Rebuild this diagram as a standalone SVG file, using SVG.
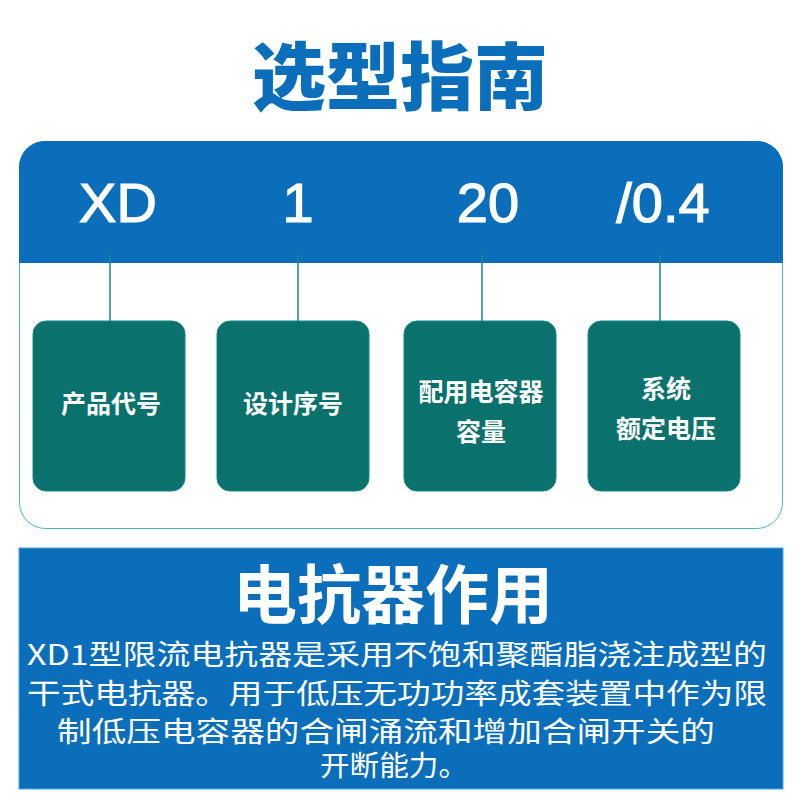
<svg xmlns="http://www.w3.org/2000/svg" width="800" height="800" viewBox="0 0 800 800">
<style>
.box{fill:#0a716d;stroke:#118a82;stroke-width:1}
.lbl{fill:#fff;font-family:"Noto Sans CJK SC","Noto Sans",sans-serif;font-size:25px;font-weight:bold;text-anchor:middle}
.code{fill:#fff;stroke:#fff;stroke-width:1.2;font-family:"Liberation Sans",Arial,sans-serif;font-size:56px;text-anchor:middle}
.body{fill:#fff;font-family:"Noto Sans CJK SC",sans-serif;font-size:28px}
.conn{stroke:#148a80;stroke-width:1.5}
</style>
<rect width="800" height="800" fill="#fff"/>
<text x="400" y="104" text-anchor="middle" font-family="Noto Sans CJK SC,sans-serif" font-weight="900" font-size="74" fill="#0b6ebb">选型指南</text>
<g id="card">
<rect x="19.5" y="141.5" width="763" height="387" rx="26" fill="#fff" stroke="#48b8b0" stroke-width="1"/>
<path d="M19 263 V167 A26 26 0 0 1 45 141 H757 A26 26 0 0 1 783 167 V263 Z" fill="#0b6ebb"/>
<text class="code" x="118" y="222">XD</text>
<text class="code" x="298" y="222">1</text>
<text class="code" x="488" y="222">20</text>
<text class="code" x="663" y="222">/0.4</text>
</g>
<g id="connectors">
<line class="conn" x1="110" y1="255" x2="110" y2="321"/>
<line class="conn" x1="298" y1="255" x2="298" y2="321"/>
<line class="conn" x1="482" y1="255" x2="482" y2="321"/>
<line class="conn" x1="660" y1="255" x2="660" y2="321"/>
</g>
<g id="n1"><rect class="box" x="33" y="321" width="152" height="170" rx="13"/><text class="lbl" x="111" y="413">产品代号</text></g>
<g id="n2"><rect class="box" x="217" y="321" width="152" height="170" rx="13"/><text class="lbl" x="293" y="413">设计序号</text></g>
<g id="n3"><rect class="box" x="404" y="321" width="152" height="170" rx="13"/><text class="lbl" x="481" y="401">配用电容器</text><text class="lbl" x="481" y="441">容量</text></g>
<g id="n4"><rect class="box" x="588" y="321" width="152" height="170" rx="13"/><text class="lbl" x="666" y="398">系统</text><text class="lbl" x="666" y="438">额定电压</text></g>
<g id="bottom">
<rect x="19" y="548" width="764" height="241" fill="#0b6ebb" stroke="#4aa8e0" stroke-width="1"/>
<text x="393" y="618" text-anchor="middle" font-family="Noto Sans CJK SC,sans-serif" font-weight="bold" font-size="64" fill="#fff">电抗器作用</text>
<text class="body" x="27" y="665" textLength="740" lengthAdjust="spacingAndGlyphs">XD1型限流电抗器是采用不饱和聚酯脂浇注成型的</text>
<text class="body" x="27" y="704" textLength="740" lengthAdjust="spacingAndGlyphs">干式电抗器。用于低压无功功率成套装置中作为限</text>
<text class="body" x="57" y="742" textLength="658" lengthAdjust="spacingAndGlyphs">制低压电容器的合闸涌流和增加合闸开关的</text>
<text class="body" x="320" y="776" textLength="148" lengthAdjust="spacingAndGlyphs">开断能力。</text>
</g>
</svg>
